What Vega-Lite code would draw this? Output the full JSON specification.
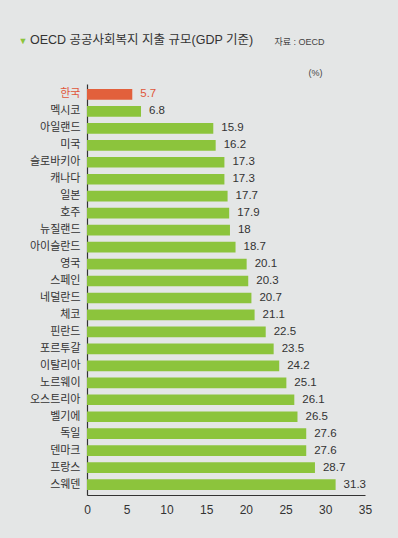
{
  "$schema": "https://vega.github.io/schema/vega-lite/v6.json",
  "autosize": {"type": "none"},
  "padding": {"left": 87, "top": 84, "right": 33, "bottom": 43},
  "width": 278,
  "height": 411,
  "background": "#e4e6e6",
  "title": {
    "text": "OECD 공공사회복지 지출 규모(GDP 기준)",
    "anchor": "start",
    "frame": "group",
    "dx": -57,
    "dy": 46,
    "offset": 36,
    "fontSize": 12.5,
    "fontWeight": "normal",
    "color": "#333333",
    "font": "'Liberation Sans', 'Noto Sans CJK KR', sans-serif"
  },
  "config": {
    "font": "'Liberation Sans', 'Noto Sans CJK KR', sans-serif",
    "view": {"stroke": null},
    "axis": {"grid": false, "ticks": false}
  },
  "data": {
    "values": [
      {"country": "한국", "value": 5.7},
      {"country": "멕시코", "value": 6.8},
      {"country": "아일랜드", "value": 15.9},
      {"country": "미국", "value": 16.2},
      {"country": "슬로바키아", "value": 17.3},
      {"country": "캐나다", "value": 17.3},
      {"country": "일본", "value": 17.7},
      {"country": "호주", "value": 17.9},
      {"country": "뉴질랜드", "value": 18},
      {"country": "아이슬란드", "value": 18.7},
      {"country": "영국", "value": 20.1},
      {"country": "스페인", "value": 20.3},
      {"country": "네덜란드", "value": 20.7},
      {"country": "체코", "value": 21.1},
      {"country": "핀란드", "value": 22.5},
      {"country": "포르투갈", "value": 23.5},
      {"country": "이탈리아", "value": 24.2},
      {"country": "노르웨이", "value": 25.1},
      {"country": "오스트리아", "value": 26.1},
      {"country": "벨기에", "value": 26.5},
      {"country": "독일", "value": 27.6},
      {"country": "덴마크", "value": 27.6},
      {"country": "프랑스", "value": 28.7},
      {"country": "스웨덴", "value": 31.3}
    ]
  },
  "layer": [
    {
      "mark": {"type": "bar"},
      "encoding": {
        "y": {
          "field": "country",
          "type": "nominal",
          "sort": null,
          "scale": {"paddingInner": 0.37, "paddingOuter": 0.3},
          "axis": {
            "orient": "left",
            "title": "▼",
            "titleAngle": 0,
            "titleX": -69,
            "titleY": -44,
            "titleAlign": "left",
            "titleBaseline": "middle",
            "titleColor": "#8cc43c",
            "titleFontSize": 9,
            "titleFontWeight": "normal",
            "domainColor": "#333333",
            "domainWidth": 1.2,
            "labelFontSize": 11,
            "labelPadding": 7,
            "labelColor": {"condition": {"test": "datum.value === '한국'", "value": "#e0563a"}, "value": "#333333"},
            "labelFont": "'Noto Sans CJK KR', sans-serif"
          }
        },
        "x": {
          "field": "value",
          "type": "quantitative",
          "scale": {"domain": [0, 35], "nice": false},
          "axis": {
            "orient": "bottom",
            "title": null,
            "values": [0, 5, 10, 15, 20, 25, 30, 35],
            "domainColor": "#333333",
            "domainWidth": 1.2,
            "labelFontSize": 12,
            "labelColor": "#333333",
            "labelPadding": 9,
            "labelFlush": false
          }
        },
        "color": {
          "condition": {"test": "datum.country === '한국'", "value": "#e2603c"},
          "value": "#8cc43c"
        }
      }
    },
    {
      "mark": {"type": "text", "align": "left", "baseline": "middle", "dx": 8, "fontSize": 11.5},
      "encoding": {
        "y": {
          "field": "country",
          "type": "nominal",
          "sort": null,
          "axis": {
            "orient": "right",
            "domain": false,
            "labels": false,
            "title": "자료 : OECD",
            "titleAngle": 0,
            "titleX": -91,
            "titleY": -43,
            "titleAlign": "left",
            "titleBaseline": "middle",
            "titleFontSize": 9,
            "titleFontWeight": "normal",
            "titleColor": "#444444"
          }
        },
        "x": {
          "field": "value",
          "type": "quantitative",
          "axis": {
            "orient": "top",
            "domain": false,
            "labels": false,
            "title": "(%)",
            "titleX": 221,
            "titleY": -12,
            "titleAlign": "left",
            "titleBaseline": "middle",
            "titleFontSize": 9,
            "titleFontWeight": "normal",
            "titleColor": "#444444"
          }
        },
        "text": {"field": "value", "type": "quantitative"},
        "color": {
          "condition": {"test": "datum.country === '한국'", "value": "#e0563a"},
          "value": "#333333"
        }
      }
    }
  ]
}
